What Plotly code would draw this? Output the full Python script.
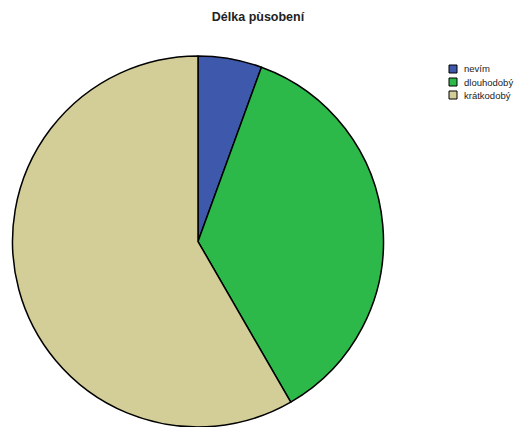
import plotly.graph_objects as go

labels = ["nevím", "dlouhodobý", "krátkodobý"]
values = [2, 13, 21]
colors = ["#3e58ac", "#2db84a", "#d3ce97"]
title_text = "Délka pùsobení"

W, H = 517, 427
fig = go.Figure(go.Pie(
    labels=labels, values=values, sort=False, direction="clockwise", rotation=0,
    marker=dict(colors=colors, line=dict(color="black", width=1.5)),
    textinfo="none", hoverinfo="label+percent", showlegend=False,
    domain=dict(x=[11 / W, 385 / W], y=[0, 371 / H]),
))

# legend drawn as swatches + text labels
leg_x0, leg_y0, leg_step, box = 449, 69, 13, 8
for i, (lab, col) in enumerate(zip(labels, colors)):
    yc = leg_y0 + i * leg_step
    fig.add_shape(type="rect", xref="paper", yref="paper",
                  x0=leg_x0 / W, x1=(leg_x0 + box) / W,
                  y0=1 - (yc + box / 2) / H, y1=1 - (yc - box / 2) / H,
                  fillcolor=col, line=dict(color="black", width=1))
    fig.add_annotation(text=lab, xref="paper", yref="paper",
                       x=(leg_x0 + box + 5) / W, y=1 - yc / H,
                       xanchor="left", yanchor="middle", showarrow=False,
                       font=dict(size=9.5, color="#222"))

fig.update_layout(
    width=W, height=H, margin=dict(l=0, r=0, t=0, b=0),
    paper_bgcolor="white", plot_bgcolor="white",
    font=dict(family="Liberation Sans, Arial, sans-serif", color="black"),
    title=dict(text="<b>" + title_text + "</b>", x=258 / W, xanchor="center", y=1 - 17 / H,
               yanchor="middle", font=dict(size=12.5, color="#222")),
    showlegend=False,
)
fig.write_html("out.html", config={"displayModeBar": False},
               post_script="document.body.style.margin='0';document.body.style.overflow='hidden';")
